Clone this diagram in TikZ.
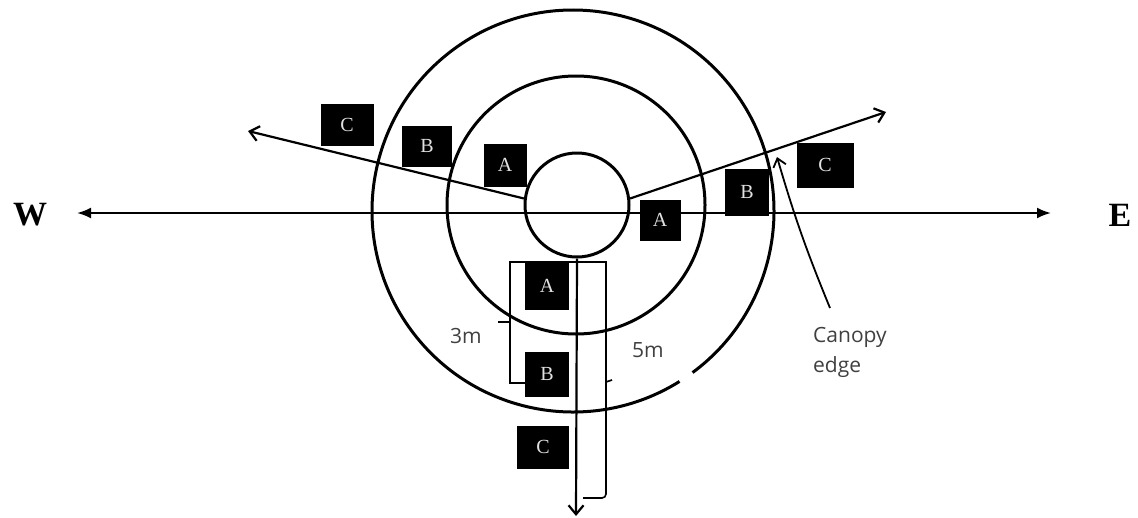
\documentclass[tikz,border=0pt]{standalone}
\usepackage{fontspec}
\setmainfont{Liberation Serif}
\newfontfamily\lblfont{Open Sans}
\usetikzlibrary{arrows.meta}
\begin{document}
\begin{tikzpicture}[x=1pt,y=-1pt,
  ring/.style={draw, line width=3pt},
  ray/.style={line width=2.2pt},
  lbox/.style={fill=black, text=white!88!black, inner sep=0pt,
    minimum width=44pt, minimum height=43pt,
    font=\fontsize{20}{20}\selectfont},
  cardinal/.style={font=\fontsize{34}{34}\selectfont\bfseries},
  meas/.style={font=\lblfont\fontsize{21}{30}\selectfont, text=black!75},
  brk/.style={line width=1.6pt},
  ]
\useasboundingbox (0,0) rectangle (1138,517);

% rings
\node[ring, circle, inner sep=0pt, minimum size=104pt] (inner) at (577,205) {};
\node[ring, circle, inner sep=0pt, minimum size=258pt] (middle) at (576,205) {};
\coordinate (oc) at (573,211);
\draw[ring] (oc) ++(-53.5:201pt) arc[start angle=-53.5, end angle=302, radius=201pt];

% W-E axis
\node[cardinal] (W) at (30,215) {W};
\node[cardinal] (E) at (1120,215) {E};
\coordinate (wtip) at (77,213);
\coordinate (etip) at (1051,213);
\draw[ray, {Latex[length=14pt,width=11pt]}-{Latex[length=14pt,width=11pt]}] (wtip) -- (etip);

% rays
\coordinate (ltip) at (248,131);
\coordinate (rtip) at (886,112);
\coordinate (stip) at (576,516);
\draw[ray, -{Straight Barb[length=9pt,width=15pt]}] (inner.173) -- (ltip);
\draw[ray, -{Straight Barb[length=9pt,width=15pt]}] (inner.7) -- (rtip);
\draw[ray, -{Straight Barb[length=9pt,width=15pt]}] (inner.south) -- (stip);

% boxes
\node[lbox, minimum width=53pt, minimum height=42pt] (lC) at (347,125) {C};
\node[lbox, minimum width=50pt, minimum height=41pt] (lB) at (427,146) {B};
\node[lbox, minimum width=43pt, minimum height=43pt] (lA) at (505,165) {A};
\node[lbox, minimum width=41pt, minimum height=41pt] (rA) at (660,220) {A};
\node[lbox, minimum width=44pt, minimum height=47pt] (rB) at (747,192) {B};
\node[lbox, minimum width=57pt, minimum height=45pt] (rC) at (825,165) {C};
\node[lbox, minimum width=44pt, minimum height=48pt] (sA) at (547,286) {A};
\node[lbox, minimum width=44pt, minimum height=45pt] (sB) at (547,374) {B};
\node[lbox, minimum width=52pt, minimum height=43pt] (sC) at (543,447) {C};

% brackets
\draw[brk] (525,383) -- (510,383) -- (510,262) -- (606,262) -- (606,382) -- (612,380)
  (606,382) -- (606,494) to[out=-90,in=0] (602,498) -- (583,498);
\draw[brk] (498,322) -- (510,322);
\node[meas] (m3) at (466,336) {3m};
\node[meas] (m5) at (648,350) {5m};

% canopy edge
\node[meas, align=left, anchor=north west, inner sep=0pt] (canopy) at (813,327) {Canopy\\edge};
\coordinate (cstart) at (830,308);
\coordinate (ctip) at (777,157);
\draw[line width=1.8pt, -{Straight Barb[length=8pt,width=13pt]}] (cstart) to[bend left=3] (ctip);
\end{tikzpicture}
\end{document}
